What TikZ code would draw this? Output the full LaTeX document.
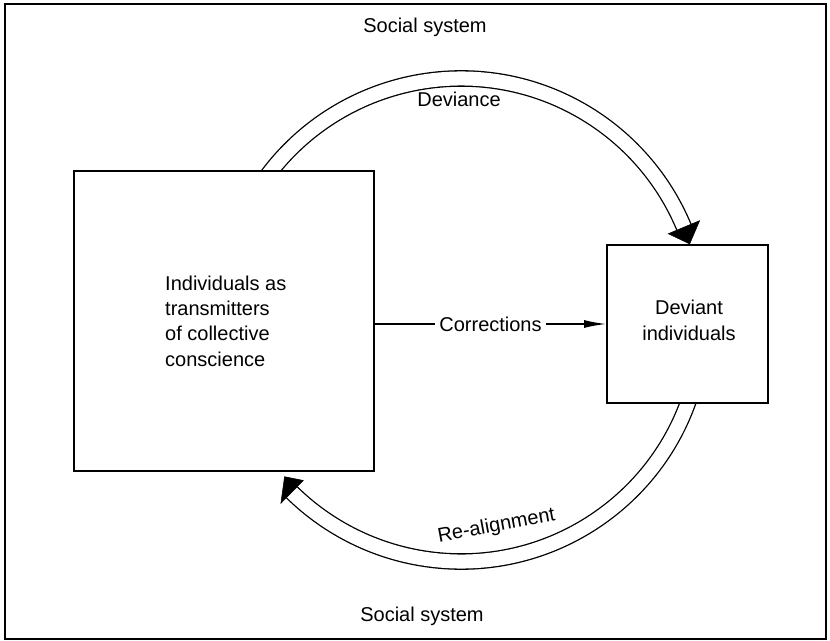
\documentclass[tikz,border=0pt]{standalone}
\usepackage{fontspec}
\setmainfont{Liberation Sans}
\usetikzlibrary{arrows.meta,calc}
\begin{document}
\begin{tikzpicture}[x=1pt,y=1pt,
  box/.style={draw, line width=2pt, fill=white, inner sep=0pt},
  lbl/.style={font=\fontsize{20}{25.3}\selectfont, inner sep=0pt},
  flow/.style={line width=1.3pt, double=white, double distance=14pt},
  head/.style={fill=black, draw=black, line width=0.5pt, line join=miter}]
\useasboundingbox (0,0) rectangle (830,640);
\draw[line width=2pt] (5,1.5) rectangle (826,635.5);
\coordinate (C) at (461,320);
% Deviance arc
\draw[flow] ($(C)+(150:241.5)$) arc[start angle=150, end angle=22.6, radius=241.5];
\fill[head] ($(C)+(22.6:224.5)$) -- ($(C)+(22.6:258.5)$) -- ($(C)+(18.4:241)$) -- cycle;
% Re-alignment arc
\draw[flow] ($(C)+(-10:241.5)$) arc[start angle=-10, end angle=-134.5, radius=241.5];
\fill[head] ($(C)+(225.5:225)$) -- ($(C)+(225.5:257)$) -- ($(C)+(221.6:236)$) -- cycle;
% boxes
\node[box, minimum width=300pt, minimum height=300pt] (L) at (224,319) {};
\node[box, minimum width=161pt, minimum height=158pt] (R) at (687.5,316) {};
\node[lbl, anchor=west, align=left] (Lt) at (165,319) {Individuals as\\transmitters\\of collective\\conscience};
\node[lbl, align=center] (Rt) at (689,319.6) {Deviant\\individuals};
% corrections
\draw[line width=1.3pt, -{Latex[length=22pt, width=8pt]}] (L.east |- R.west) -- node[lbl, fill=white, inner xsep=4pt, inner ysep=2pt] (corr) {Corrections} (R.west);
% labels
\node[lbl, anchor=base] (dev) at (459,533) {Deviance};
\node[lbl, anchor=base] (s1) at (425,607) {Social system};
\node[lbl, anchor=base] (s2) at (422,18.5) {Social system};
\node[lbl, anchor=base, rotate=10.5] (realign) at (497.5,108.5) {Re-alignment};
\end{tikzpicture}
\end{document}
